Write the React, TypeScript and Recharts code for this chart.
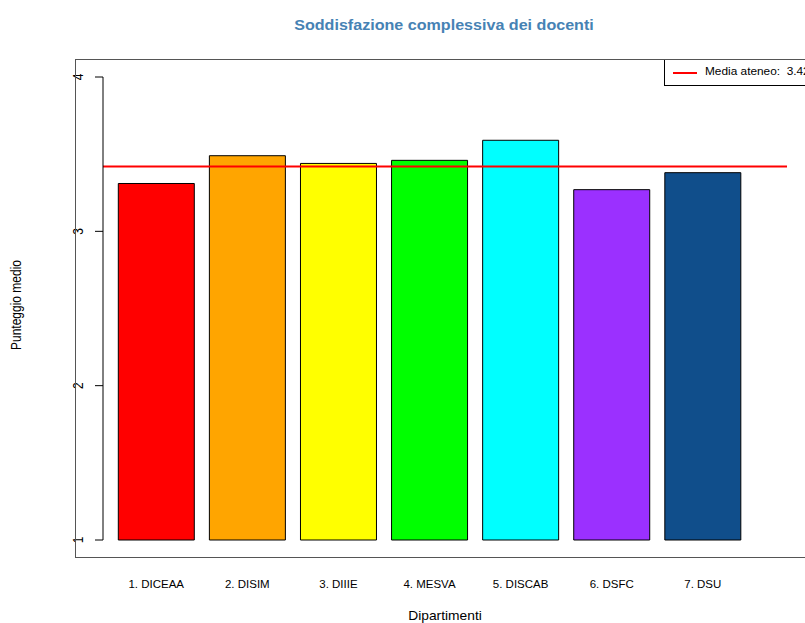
import React from 'react';
import {
  ComposedChart,
  Bar,
  Cell,
  XAxis,
  YAxis,
  ReferenceLine,
  Legend
} from 'recharts';

const departments = ['1. DICEAA', '2. DISIM', '3. DIIIE', '4. MESVA', '5. DISCAB', '6. DSFC', '7. DSU'];
const scores = [3.31, 3.49, 3.44, 3.46, 3.59, 3.27, 3.38];
const barColors = ['#FF0000', '#FFA500', '#FFFF00', '#00FF00', '#00FFFF', '#9B30FF', '#104E8B'];
const mediaAteneo = 3.42;
const yTicks = [1, 2, 3, 4];

const FONT = '"Liberation Sans", Arial, Helvetica, sans-serif';
// the reference is stretched horizontally, text too
const SX = 1.15;

const data = departments.map((name, i) => ({ name, score: scores[i] }));

const XTick = (props: any) => {
  const { x, payload } = props;
  return (
    <text
      transform={`translate(${x}, 587.5) scale(${SX}, 1)`}
      textAnchor="middle"
      fontFamily={FONT}
      fontSize={10}
      fill="#000"
    >
      {payload.value}
    </text>
  );
};

const YTick = (props: any) => {
  const { y, payload } = props;
  return (
    <text
      transform={`translate(83, ${y}) scale(${SX}, 1) rotate(-90)`}
      textAnchor="middle"
      fontFamily={FONT}
      fontSize={12}
      fill="#000"
    >
      {payload.value}
    </text>
  );
};

const LegendBox = () => (
  <div
    style={{
      position: 'relative',
      width: 148,
      height: 27,
      border: '1px solid #000',
      boxSizing: 'border-box',
      background: '#fff'
    }}
  >
    <div style={{ position: 'absolute', left: 8, top: 11.5, width: 24, height: 2, background: '#FF0000' }} />
    <span
      style={{
        position: 'absolute',
        left: 40,
        top: 6,
        fontFamily: FONT,
        fontSize: 10.3,
        lineHeight: '12px',
        whiteSpace: 'pre',
        transform: `scaleX(${SX})`,
        transformOrigin: 'left center',
        color: '#000'
      }}
    >
      {`Media ateneo:  ${mediaAteneo}`}
    </span>
  </div>
);

export default function App() {
  return (
    <div style={{ position: 'absolute', left: 0, top: 0, width: 805, height: 623, overflow: 'hidden', background: '#fff' }}>
      <ComposedChart
        width={805}
        height={623}
        data={data}
        margin={{ top: 77, right: 18, left: 0, bottom: 0 }}
        barCategoryGap={7.6}
      >
        <XAxis
          dataKey="name"
          height={83}
          axisLine={false}
          tickLine={false}
          interval={0}
          padding={{ left: 7.7, right: 38.7 }}
          tick={<XTick />}
        />
        <YAxis
          width={103}
          domain={[1, 4]}
          ticks={yTicks}
          tickSize={8}
          tickMargin={0}
          axisLine={{ stroke: '#000' }}
          tickLine={{ stroke: '#000' }}
          tick={<YTick />}
        />
        <Bar dataKey="score" stroke="#000" strokeWidth={1} isAnimationActive={false}>
          {data.map((d, i) => (
            <Cell key={d.name} fill={barColors[i]} />
          ))}
        </Bar>
        <ReferenceLine y={mediaAteneo} stroke="#FF0000" strokeWidth={2} />
        <Legend
          layout="horizontal"
          verticalAlign="middle"
          align="center"
          content={<LegendBox />}
          wrapperStyle={{ left: 664, top: 59, width: 148, height: 27 }}
        />
      </ComposedChart>
      <svg
        width={805}
        height={623}
        style={{ position: 'absolute', left: 0, top: 0, pointerEvents: 'none' }}
      >
        <rect x={75.5} y={59.5} width={737} height={498} fill="none" stroke="#555" strokeWidth={1} />
        <text
          transform={`translate(444, 30) scale(${SX}, 1)`}
          textAnchor="middle"
          fontFamily={FONT}
          fontSize={14}
          fontWeight="bold"
          fill="#4682B4"
        >
          Soddisfazione complessiva dei docenti
        </text>
        <text
          transform={`translate(445, 620) scale(${SX}, 1)`}
          textAnchor="middle"
          fontFamily={FONT}
          fontSize={12}
          fill="#000"
        >
          Dipartimenti
        </text>
        <text
          transform={`translate(21, 305) scale(${SX}, 1) rotate(-90)`}
          textAnchor="middle"
          fontFamily={FONT}
          fontSize={12}
          fill="#000"
        >
          Punteggio medio
        </text>
      </svg>
    </div>
  );
}
